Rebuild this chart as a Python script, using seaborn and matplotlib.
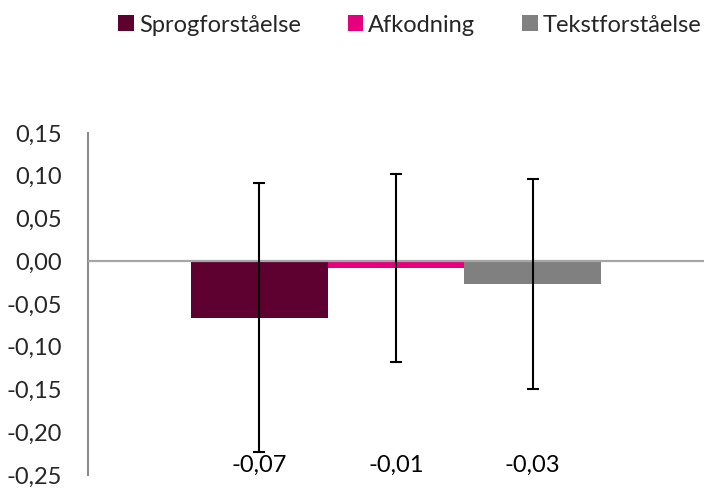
import numpy as np
import pandas as pd
import matplotlib
matplotlib.use("Agg")
import matplotlib.pyplot as plt
from matplotlib.patches import Patch
import seaborn as sns

# data
categories = ["Sprogforståelse", "Afkodning", "Tekstforståelse"]
values = [-0.066, -0.008, -0.027]
errors = [0.157, 0.110, 0.123]
colors = ["#5E0030", "#E6007E", "#808080"]
yticks = [-0.25, -0.20, -0.15, -0.10, -0.05, 0.00, 0.05, 0.10, 0.15]

df = pd.DataFrame({"kategori": categories, "vaerdi": values})

sns.set_style("white")
plt.rcParams["font.family"] = ["Lato", "DejaVu Sans"]

fig = plt.figure(figsize=(7.13, 4.92), dpi=100)
ax = fig.add_axes([0.1234, 0.0346, 0.8636, 0.6951])

sns.barplot(data=df, x="kategori", y="vaerdi", hue="kategori",
            palette=colors, width=1.0, legend=False, ax=ax,
            saturation=1, linewidth=0)

# error bars
xs = np.arange(len(categories))
ax.errorbar(xs, values, yerr=errors, fmt="none", ecolor="black",
            elinewidth=1.5, capsize=4.5, capthick=1.5, zorder=5)

# zero line
ax.axhline(0, color="#A6A6A6", lw=1.6, zorder=4)

# data labels at the bottom
for x, v in zip(xs, values):
    ax.text(x, -0.239, f"{v:.2f}".replace(".", ","), ha="center",
            va="center", fontsize=17, color="black")

ax.set_xlim(-1.253, 3.253)
ax.set_ylim(-0.25, 0.15)
ax.set_yticks(yticks)
ax.set_yticklabels([f"{t:.2f}".replace(".", ",") for t in yticks],
                   fontsize=17)
ax.set_xticks([])
ax.set_xlabel("")
ax.set_ylabel("")
ax.tick_params(axis="y", length=0, pad=18.5)

for s in ["top", "right", "bottom"]:
    ax.spines[s].set_visible(False)
ax.spines["left"].set_color("#8C8C8C")
ax.spines["left"].set_linewidth(1.5)

handles = [Patch(facecolor=c, edgecolor="none", label=l)
           for c, l in zip(colors, categories)]
fig.legend(handles=handles, loc="center", bbox_to_anchor=(0.575, 0.949),
           ncol=3, frameon=False, fontsize=17, handlelength=0.64,
           handleheight=0.64, handletextpad=0.22, columnspacing=2.0,
           borderpad=0, borderaxespad=0)

fig.savefig("out.png", dpi=100)
